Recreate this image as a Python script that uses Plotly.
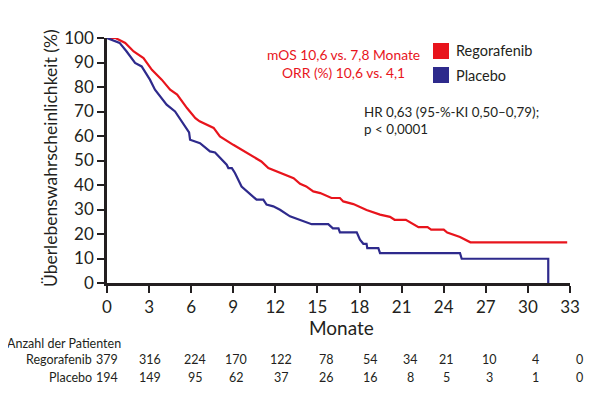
import plotly.graph_objects as go

# ---- data ----
rego_month = [0, 0.6, 1.3, 1.9, 2.6, 3.2, 3.9, 4.5, 5.0, 5.7, 6.3, 6.6, 7.6, 8.05, 9.0, 10.0,
              11.0, 11.5, 12.3, 13.3, 13.76, 14.2, 14.7, 15.2, 16.0, 16.6, 16.84, 17.56, 18.5,
              19.46, 20.17, 20.5, 21.3, 22.2, 22.85, 23.1, 24.0, 24.25, 25.16, 25.9, 32.8]
rego_surv = [100, 100, 98, 94.5, 91.8, 87, 83, 78.9, 76.9, 71.4, 67.3, 66, 63.3, 59.8, 56.4, 53,
             49.6, 46.9, 45.1, 42.8, 40.5, 39.4, 37.4, 36.7, 34.7, 34.7, 33.3, 32.2, 29.8,
             27.9, 27.0, 25.8, 25.8, 22.8, 22.8, 21.8, 21.8, 20.6, 18.8, 16.6, 16.6]

plac_month = [0, 0.9, 1.4, 2.0, 2.47, 3.06, 3.42, 4.25, 4.85, 5.56, 5.85, 5.92, 6.63, 7.34, 7.7,
              8.53, 8.65, 8.9, 9.12, 9.59, 10.66, 11.14, 11.37, 11.85, 12.33, 13.04, 13.76,
              14.59, 15.77, 16.1, 16.5, 16.6, 17.8, 18.03, 18.27, 18.5, 18.55, 19.34, 19.46,
              25.16, 25.28, 31.45, 31.45]
plac_surv = [100, 98, 94.5, 89.8, 88.4, 83, 78.9, 72.8, 70, 63.9, 61.5, 58.5, 57.1, 53.7, 53.3,
             48.3, 46.9, 46.9, 44.9, 39.4, 34, 34, 32, 31.3, 29.9, 27.2, 25.8,
             24, 24, 22.3, 22.3, 20.7, 20.7, 17.7, 16, 16, 14.2, 14.2, 12.2,
             12.2, 9.9, 9.9, 0]

tick_months = [0, 3, 6, 9, 12, 15, 18, 21, 24, 27, 30, 33]
y_ticks = [0, 10, 20, 30, 40, 50, 60, 70, 80, 90, 100]
risk_rego = [379, 316, 224, 170, 122, 78, 54, 34, 21, 10, 4, 0]
risk_plac = [194, 149, 95, 62, 37, 26, 16, 8, 5, 3, 1, 0]

# horizontal nudges (px) of the risk-table columns, as laid out in the reference
col_shift = [0, 1, 4, 3, 6, 9, 11, 9, 3, 4, 8, 9]

RED = "#e8141c"
BLUE = "#2e2a8c"
INK = "#231f20"
FONT = "Lato, sans-serif"

fig = go.Figure()
fig.add_trace(go.Scatter(x=rego_month, y=rego_surv, mode="lines",
                         line=dict(color=RED, width=2.2), cliponaxis=False,
                         showlegend=False, name="Regorafenib"))
fig.add_trace(go.Scatter(x=plac_month, y=plac_surv, mode="lines",
                         line=dict(color=BLUE, width=2.2), cliponaxis=False,
                         showlegend=False, name="Placebo"))

# page has an 8px body margin: work in page pixels, convert to figure pixels
OFF = 8
W, H = 600 - OFF, 395 - OFF
PL, PR, PT, PB = 107, 570, 38, 283   # plot area in page pixels
L, T = PL - OFF, PT - OFF
R, B = W - (PR - OFF), H - (PB - OFF)
pw, ph = PR - PL, PB - PT

def px_x(p):
    return (p - PL) / pw

def px_y(p):
    return (PB - p) / ph

fig.update_layout(
    width=W, height=H,
    margin=dict(l=L, r=R, t=T, b=B),
    paper_bgcolor="white", plot_bgcolor="white",
    font=dict(family=FONT, color=INK, size=16),
    xaxis=dict(range=[0, 33], tickvals=tick_months, ticks="outside", ticklen=7,
               tickwidth=2, tickcolor=INK, showline=True, linecolor=INK, linewidth=2.5,
               showgrid=False, zeroline=False, tickfont=dict(size=17, family=FONT, color=INK)),
    yaxis=dict(range=[0, 100], tickvals=y_ticks, ticks="outside", ticklen=7,
               tickwidth=2, tickcolor=INK, showline=True, linecolor=INK, linewidth=2.5,
               showgrid=False, zeroline=False, tickfont=dict(size=17, family=FONT, color=INK)),
)

ann = []
ann.append(dict(text="Überlebenswahrscheinlichkeit (%)", xref="paper", yref="paper",
                x=px_x(50), y=px_y(158), textangle=-90, showarrow=False,
                xanchor="center", yanchor="middle", font=dict(size=17.5)))
ann.append(dict(text="Monate", xref="paper", yref="paper", x=px_x(341), y=px_y(327),
                showarrow=False, xanchor="center", yanchor="middle", font=dict(size=19)))
ann.append(dict(text="mOS 10,6 vs. 7,8 Monate<br>ORR (%) 10,6 vs. 4,1", xref="paper", yref="paper",
                x=px_x(343), y=px_y(63), showarrow=False, xanchor="center", yanchor="middle",
                align="center", font=dict(size=13.8, color=RED)))
ann.append(dict(text="HR 0,63 (95-%-KI 0,50–0,79);<br>p < 0,0001", xref="paper", yref="paper",
                x=px_x(362), y=px_y(120), showarrow=False, xanchor="left", yanchor="middle",
                align="left", font=dict(size=13.4)))
ann.append(dict(text="Regorafenib", xref="paper", yref="paper", x=px_x(454), y=px_y(51),
                showarrow=False, xanchor="left", yanchor="middle", font=dict(size=14.5)))
ann.append(dict(text="Placebo", xref="paper", yref="paper", x=px_x(454), y=px_y(75),
                showarrow=False, xanchor="left", yanchor="middle", font=dict(size=14.5)))
ann.append(dict(text="Anzahl der Patienten", xref="paper", yref="paper", x=px_x(5), y=px_y(343),
                showarrow=False, xanchor="left", yanchor="middle", font=dict(size=12.5)))
ann.append(dict(text="Regorafenib", xref="paper", yref="paper", x=px_x(94), y=px_y(359),
                showarrow=False, xanchor="right", yanchor="middle", font=dict(size=12.5)))
ann.append(dict(text="Placebo", xref="paper", yref="paper", x=px_x(94), y=px_y(377),
                showarrow=False, xanchor="right", yanchor="middle", font=dict(size=12.5)))
for m, v, s in zip(tick_months, risk_rego, col_shift):
    ann.append(dict(text=str(v), xref="x", yref="paper", x=m, y=px_y(359), showarrow=False,
                    xanchor="center", yanchor="middle", xshift=s, font=dict(size=12.5)))
for m, v, s in zip(tick_months, risk_plac, col_shift):
    ann.append(dict(text=str(v), xref="x", yref="paper", x=m, y=px_y(377), showarrow=False,
                    xanchor="center", yanchor="middle", xshift=s, font=dict(size=12.5)))
fig.update_layout(annotations=ann)

shapes = [
    dict(type="rect", xref="paper", yref="paper", x0=px_x(433), x1=px_x(449),
         y0=px_y(59), y1=px_y(43), fillcolor=RED, line=dict(width=0)),
    dict(type="rect", xref="paper", yref="paper", x0=px_x(433), x1=px_x(449),
         y0=px_y(83), y1=px_y(67), fillcolor=BLUE, line=dict(width=0)),
]
fig.update_layout(shapes=shapes)

fig.write_html("out.html")
